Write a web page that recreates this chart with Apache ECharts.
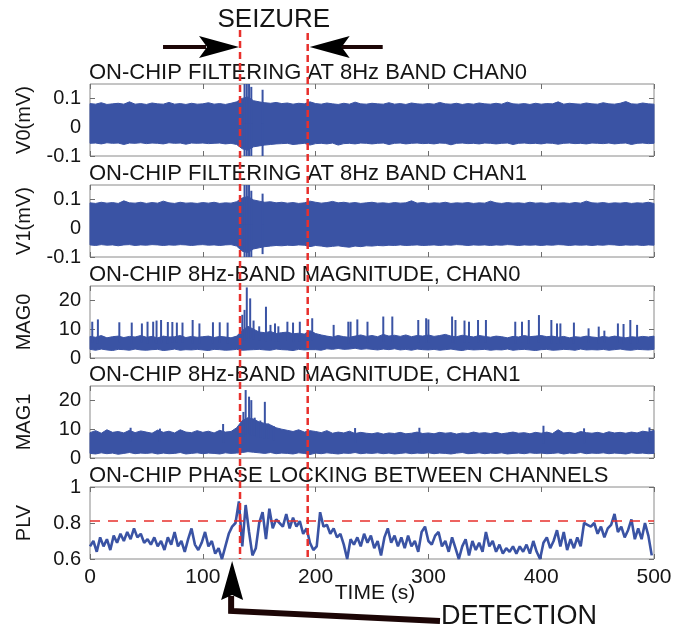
<!DOCTYPE html>
<html>
<head>
<meta charset="utf-8">
<title>On-chip seizure detection</title>
<script src="https://cdn.jsdelivr.net/npm/echarts@6.0.0/dist/echarts.min.js"></script>
<style>
  html, body { margin: 0; padding: 0; background: #fff; }
  #chart { width: 689px; height: 632px; }
</style>
</head>
<body>
<div id="chart"></div>
<script>
// ---- data ----
const bandStep = 5 // seconds between envelope samples
const plvStep = 3 // seconds between PLV samples

const v0Upper = [
  0.082, 0.080, 0.085, 0.079, 0.081, 0.083, 0.080, 0.088, 0.080, 0.082,
  0.079, 0.084, 0.081, 0.080, 0.086, 0.080, 0.082, 0.079, 0.083, 0.080,
  0.081, 0.085, 0.080, 0.082, 0.079, 0.083, 0.088, 0.100, 0.105, 0.092,
  0.088, 0.085, 0.083, 0.086, 0.082, 0.084, 0.080, 0.083, 0.081, 0.088,
  0.082, 0.080, 0.084, 0.081, 0.079, 0.083, 0.080, 0.087, 0.081, 0.080,
  0.083, 0.081, 0.080, 0.085, 0.080, 0.082, 0.079, 0.084, 0.081, 0.080,
  0.082, 0.080, 0.086, 0.081, 0.080, 0.083, 0.079, 0.082, 0.080, 0.084,
  0.081, 0.080, 0.083, 0.080, 0.087, 0.081, 0.080, 0.082, 0.079, 0.083,
  0.080, 0.082, 0.081, 0.088, 0.080, 0.083, 0.081, 0.080, 0.084, 0.081,
  0.080, 0.085, 0.081, 0.080, 0.083, 0.089, 0.081, 0.080, 0.084, 0.081, 0.080
]
const v0Lower = [
  -0.056, -0.055, -0.058, -0.054, -0.056, -0.055, -0.060, -0.055, -0.056, -0.054,
  -0.057, -0.055, -0.056, -0.058, -0.054, -0.056, -0.055, -0.059, -0.055, -0.056,
  -0.055, -0.057, -0.056, -0.055, -0.058, -0.056, -0.060, -0.075, -0.080, -0.068,
  -0.065, -0.062, -0.060, -0.058, -0.057, -0.056, -0.060, -0.058, -0.056, -0.062,
  -0.057, -0.056, -0.058, -0.055, -0.062, -0.057, -0.056, -0.058, -0.055, -0.056,
  -0.058, -0.056, -0.055, -0.060, -0.056, -0.055, -0.058, -0.056, -0.055, -0.057,
  -0.056, -0.058, -0.055, -0.056, -0.061, -0.056, -0.055, -0.057, -0.056, -0.058,
  -0.055, -0.056, -0.058, -0.056, -0.055, -0.060, -0.056, -0.055, -0.057, -0.056,
  -0.058, -0.055, -0.056, -0.059, -0.056, -0.055, -0.057, -0.056, -0.058, -0.055,
  -0.056, -0.057, -0.055, -0.058, -0.056, -0.055, -0.060, -0.056, -0.055, -0.057, -0.056
]
const v0Spikes = [
  [134, 0.1], [137, 0.15], [139, 0.15], [141, 0.15], [143, 0.14], [153, 0.13],
  [137, -0.1], [139, -0.1], [141, -0.1], [143, -0.1], [153, -0.1]
]

const v1Upper = [
  0.088, 0.086, 0.090, 0.087, 0.089, 0.086, 0.095, 0.088, 0.087, 0.090,
  0.086, 0.089, 0.087, 0.094, 0.088, 0.086, 0.090, 0.087, 0.088, 0.086,
  0.089, 0.087, 0.090, 0.086, 0.088, 0.087, 0.092, 0.105, 0.110, 0.098,
  0.094, 0.090, 0.092, 0.088, 0.090, 0.087, 0.089, 0.086, 0.088, 0.094,
  0.090, 0.087, 0.089, 0.093, 0.088, 0.090, 0.087, 0.089, 0.086, 0.088,
  0.090, 0.087, 0.088, 0.086, 0.089, 0.087, 0.088, 0.095, 0.087, 0.089,
  0.086, 0.088, 0.087, 0.090, 0.086, 0.088, 0.087, 0.089, 0.086, 0.088,
  0.087, 0.094, 0.088, 0.086, 0.089, 0.087, 0.088, 0.086, 0.090, 0.087,
  0.088, 0.086, 0.089, 0.087, 0.088, 0.086, 0.089, 0.087, 0.094, 0.088,
  0.087, 0.089, 0.086, 0.088, 0.087, 0.089, 0.086, 0.088, 0.087, 0.090, 0.086
]
const v1Lower = [
  -0.058, -0.060, -0.057, -0.059, -0.058, -0.061, -0.058, -0.057, -0.060, -0.058,
  -0.059, -0.057, -0.058, -0.060, -0.058, -0.059, -0.057, -0.058, -0.060, -0.058,
  -0.057, -0.059, -0.058, -0.060, -0.058, -0.057, -0.062, -0.080, -0.085, -0.072,
  -0.068, -0.064, -0.062, -0.060, -0.061, -0.059, -0.060, -0.058, -0.059, -0.064,
  -0.060, -0.062, -0.065, -0.063, -0.061, -0.064, -0.066, -0.062, -0.064, -0.061,
  -0.062, -0.060, -0.061, -0.059, -0.060, -0.058, -0.060, -0.059, -0.058, -0.060,
  -0.059, -0.058, -0.060, -0.058, -0.059, -0.057, -0.058, -0.060, -0.058, -0.059,
  -0.058, -0.060, -0.058, -0.059, -0.057, -0.058, -0.060, -0.058, -0.059, -0.058,
  -0.060, -0.058, -0.059, -0.057, -0.058, -0.060, -0.058, -0.059, -0.058, -0.060,
  -0.058, -0.059, -0.057, -0.058, -0.060, -0.058, -0.059, -0.058, -0.060, -0.058, -0.059
]
const v1Spikes = [
  [135, 0.1], [137, 0.15], [139, 0.15], [141, 0.15], [143, 0.13], [153, 0.12],
  [137, -0.1], [139, -0.1], [141, -0.1], [143, -0.1], [153, -0.09]
]

const mag0Upper = [
  7.5, 7.2, 7.8, 7.0, 7.4, 7.6, 7.1, 7.5, 7.3, 7.8,
  7.2, 7.5, 7.0, 7.6, 7.3, 7.4, 7.8, 7.1, 7.5, 7.2,
  7.4, 7.6, 7.1, 7.5, 7.3, 7.0, 7.6, 9.5, 11.0, 10.0,
  9.0, 8.8, 9.2, 8.5, 8.8, 9.0, 8.4, 8.6, 8.3, 9.5,
  8.5, 8.0, 7.6, 7.3, 7.8, 7.4, 7.2, 7.6, 8.0, 7.5,
  7.8, 7.4, 8.2, 7.6, 7.9, 7.5, 8.0, 7.4, 7.8, 7.6,
  8.0, 7.5, 7.8, 8.2, 7.6, 7.4, 7.9, 7.6, 7.3, 7.8,
  7.5, 7.2, 7.6, 7.4, 7.0, 7.5, 7.3, 7.8, 7.4, 7.6,
  7.8, 7.4, 7.6, 7.2, 7.5, 7.0, 7.4, 7.2, 7.6, 7.3,
  7.1, 7.5, 7.2, 7.6, 7.3, 7.0, 7.4, 7.2, 7.5, 7.3, 7.6
]
const mag0Lower = [
  3.0, 2.7, 3.1, 2.8, 2.6, 3.0, 2.9, 2.7, 3.1, 2.8,
  2.7, 2.9, 3.0, 2.6, 2.8, 3.1, 2.7, 2.9, 2.8, 3.0,
  2.8, 2.6, 3.0, 2.9, 2.7, 2.8, 3.0, 2.7, 2.8, 2.9,
  3.0, 2.8, 2.7, 3.1, 2.9, 2.8, 2.6, 3.0, 2.8, 2.9,
  2.9, 2.7, 3.2, 3.0, 3.3, 3.0, 3.1, 3.4, 3.0, 3.2,
  3.0, 2.8, 3.1, 2.9, 3.2, 2.8, 3.0, 2.7, 3.1, 2.9,
  2.8, 3.0, 2.7, 2.9, 3.1, 2.8, 2.6, 3.0, 2.8, 2.9,
  3.0, 2.7, 2.9, 2.8, 3.1, 2.7, 2.9, 3.0, 2.8, 2.6,
  2.9, 3.0, 2.7, 2.8, 3.0, 2.9, 2.7, 3.1, 2.8, 2.9,
  2.8, 3.0, 2.7, 2.9, 3.1, 2.8, 2.7, 3.0, 2.9, 2.8, 3.0
]
const mag0Spikes = [
  [2, 12.6], [7, 13.4], [26, 12.4], [37, 12.3], [46, 12], [51, 12.6], [56, 12.6],
  [59, 13], [63, 13.2], [69, 12.5], [73, 12.5], [77, 12.3], [82, 12.3], [91, 13.2],
  [97, 12], [109, 12.4], [115, 12.4], [122, 12.3], [135, 15], [137, 16.7], [139, 24.5],
  [142, 20.7], [145, 13], [150, 11], [156, 17.8], [160, 11.5], [164, 12], [167, 11],
  [175, 12.6], [180, 12.3], [186, 12.6], [197, 13.8], [216, 11.5], [229, 12.6],
  [231, 12.6], [237, 13.4], [246, 12.6], [260, 14.4], [268, 14.4], [291, 13.2],
  [298, 13.8], [300, 13.4], [321, 14.4], [324, 13.2], [332, 13], [336, 12.6],
  [344, 13.2], [351, 13.2], [377, 12.6], [383, 12.6], [389, 13.2], [398, 14.9],
  [409, 13.2], [414, 12], [417, 12], [429, 12.3], [442, 10.3], [451, 10.9],
  [456, 9.5], [468, 12], [473, 11.8], [479, 13.2], [485, 11.5]
]

const mag1Upper = [
  8.8, 9.5, 8.6, 9.8, 8.9, 9.2, 8.7, 9.6, 8.8, 9.4,
  9.0, 8.6, 9.7, 8.9, 9.3, 8.7, 9.8, 9.0, 8.8, 9.5,
  8.9, 9.3, 8.7, 9.6, 9.0, 9.2, 10.5, 13.0, 14.0, 13.5,
  12.5, 12.0, 11.5, 10.5, 10.0, 9.6, 9.2, 9.8, 9.0, 9.5,
  9.2, 8.8, 9.5, 8.6, 9.0, 8.7, 9.3, 8.5, 8.9, 8.6,
  8.4, 8.8, 8.3, 8.7, 8.5, 8.9, 8.4, 8.6, 9.0, 8.5,
  8.7, 8.4, 8.9, 8.6, 8.8, 8.3, 8.7, 8.5, 9.0, 8.6,
  8.8, 8.5, 8.9, 8.4, 8.7, 9.0, 8.6, 8.8, 8.4, 8.9,
  8.6, 9.0, 8.5, 9.8, 8.7, 8.9, 8.5, 9.2, 8.8, 8.6,
  8.9, 8.5, 9.1, 8.7, 8.9, 8.6, 9.0, 8.7, 9.3, 9.0, 9.6
]
const mag1Lower = [
  1.6, 1.4, 1.8, 1.5, 1.7, 1.3, 1.6, 1.9, 1.5, 1.7,
  1.6, 1.8, 1.4, 1.7, 1.5, 1.6, 1.9, 1.4, 1.6, 1.8,
  1.5, 1.7, 1.6, 1.4, 1.8, 1.6, 1.7, 1.9, 2.2, 2.0,
  1.8, 1.6, 1.9, 1.5, 1.7, 1.6, 1.4, 1.8, 1.6, 1.2,
  1.7, 1.5, 1.8, 1.6, 1.4, 1.7, 1.6, 1.9, 1.5, 1.7,
  1.6, 1.8, 1.5, 1.7, 1.4, 1.6, 1.8, 1.5, 1.7, 1.6,
  1.8, 1.5, 1.7, 1.6, 1.4, 1.7, 1.9, 1.5, 1.6, 1.8,
  1.5, 1.7, 1.6, 1.8, 1.4, 1.6, 1.7, 1.5, 1.8, 1.6,
  1.7, 1.5, 1.6, 1.8, 1.4, 1.7, 1.6, 1.9, 1.5, 1.7,
  1.6, 1.8, 1.5, 1.7, 1.6, 1.4, 1.8, 1.6, 1.7, 1.5, 1.6
]
const mag1Spikes = [
  [36, 10.5], [62, 10.2], [118, 11.8], [133, 11.5], [136, 16], [138, 23.6],
  [141, 21.3], [143, 20.1], [146, 14], [148, 12.6], [151, 13], [155, 19.5],
  [158, 12], [163, 11], [235, 10.4], [292, 10.5], [402, 11.2], [438, 10.3], [496, 10.6]
]

const plv = [
  0.67, 0.70, 0.64, 0.72, 0.67, 0.71, 0.65, 0.73, 0.69, 0.74,
  0.70, 0.75, 0.71, 0.77, 0.72, 0.74, 0.69, 0.71, 0.68, 0.72,
  0.67, 0.70, 0.65, 0.72, 0.68, 0.75, 0.67, 0.70, 0.64, 0.71,
  0.77, 0.68, 0.65, 0.69, 0.75, 0.67, 0.70, 0.63, 0.66, 0.60,
  0.67, 0.74, 0.78, 0.80, 0.92, 0.67, 0.90, 0.75, 0.62, 0.66,
  0.80, 0.86, 0.71, 0.88, 0.77, 0.82, 0.80, 0.78, 0.85, 0.77,
  0.83, 0.78, 0.81, 0.74, 0.77, 0.69, 0.65, 0.67, 0.86, 0.78,
  0.79, 0.74, 0.77, 0.72, 0.74, 0.68, 0.60, 0.71, 0.68, 0.72,
  0.67, 0.74, 0.69, 0.73, 0.66, 0.70, 0.62, 0.72, 0.77, 0.69,
  0.73, 0.67, 0.72, 0.66, 0.73, 0.67, 0.70, 0.64, 0.75, 0.78,
  0.70, 0.68, 0.73, 0.75, 0.67, 0.70, 0.64, 0.72, 0.66, 0.60,
  0.67, 0.71, 0.62, 0.70, 0.65, 0.69, 0.64, 0.75, 0.67, 0.70,
  0.64, 0.68, 0.63, 0.66, 0.64, 0.67, 0.63, 0.67, 0.64, 0.68,
  0.63, 0.70, 0.64, 0.60, 0.69, 0.72, 0.66, 0.70, 0.76, 0.67,
  0.75, 0.65, 0.71, 0.66, 0.72, 0.67, 0.80, 0.79, 0.78, 0.80,
  0.74, 0.78, 0.72, 0.77, 0.79, 0.85, 0.75, 0.78, 0.72, 0.76,
  0.82, 0.71, 0.77, 0.71, 0.80, 0.73, 0.62
]
const plvThreshold = 0.81

const seizureStart = 133
const seizureEnd = 193
const detectionTime = 126

const xTicks = [0, 100, 200, 300, 400, 500]
const yTicks = [
  [-0.1, 0, 0.1],
  [-0.1, 0, 0.1],
  [0, 10, 20],
  [0, 10, 20],
  [0.6, 0.8, 1]
]
const yRanges = [[-0.1, 0.15], [-0.1, 0.15], [0, 25], [0, 25], [0.6, 1]]
const yNames = ['V0(mV)', 'V1(mV)', 'MAG0', 'MAG1', 'PLV']
const panelTitles = [
  'ON-CHIP FILTERING AT 8Hz BAND CHAN0',
  'ON-CHIP FILTERING AT 8Hz BAND CHAN1',
  'ON-CHIP 8Hz-BAND MAGNITUDE, CHAN0',
  'ON-CHIP 8Hz-BAND MAGNITUDE, CHAN1',
  'ON-CHIP PHASE LOCKING BETWEEN CHANNELS'
]

// ---- layout / style ----
const blue = '#3a53a4'
const red = '#e8302c'
const ink = '#151515'
const arrowInk = '#1c0606'
const face = '"Liberation Sans", Arial, Helvetica, sans-serif'
const gridLeft = 90
const gridWidth = 564
const gridHeight = 72
const gridTops = [84, 185, 286, 386, 487]

const chart = echarts.init(document.getElementById('chart'), null, { renderer: 'canvas' })

const grids = []
const xAxes = []
const yAxes = []
const tickStyle = { color: '#6e6e6e', width: 1 }

for (let i = 0; i < 5; i++) {
  grids.push({
    left: gridLeft, width: gridWidth, top: gridTops[i], height: gridHeight,
    show: true, borderColor: '#8a8a8a', borderWidth: 1, backgroundColor: 'transparent'
  })
  xAxes.push({
    type: 'value', gridIndex: i, min: 0, max: 500, interval: 100, position: 'bottom',
    axisLine: { show: false, onZero: false },
    axisTick: { inside: true, length: 5, lineStyle: tickStyle },
    axisLabel: {
      show: i === 4, margin: 8, fontSize: 21, fontFamily: face, color: ink,
      formatter: v => (xTicks.indexOf(v) >= 0 ? String(v) : '')
    },
    splitLine: { show: false }
  })
  yAxes.push({
    type: 'value', gridIndex: i, min: yRanges[i][0], max: yRanges[i][1], position: 'left',
    axisLine: { show: false, onZero: false },
    axisTick: { inside: true, length: 5, lineStyle: tickStyle, customValues: yTicks[i] },
    axisLabel: {
      margin: 9, fontSize: 20, fontFamily: face, color: ink, customValues: yTicks[i],
      formatter: v => String(+(+v).toFixed(2))
    },
    splitLine: { show: false }
  })
}
// mirrored ticks on top / right, like a boxed MATLAB axes
for (let i = 0; i < 5; i++) {
  xAxes.push({
    type: 'value', gridIndex: i, min: 0, max: 500, interval: 100, position: 'top',
    axisLine: { show: false, onZero: false },
    axisTick: { inside: true, length: 5, lineStyle: tickStyle },
    axisLabel: { show: false },
    splitLine: { show: false }
  })
  yAxes.push({
    type: 'value', gridIndex: i, min: yRanges[i][0], max: yRanges[i][1], position: 'right',
    axisLine: { show: false, onZero: false },
    axisTick: { inside: true, length: 5, lineStyle: tickStyle, customValues: yTicks[i] },
    axisLabel: { show: false },
    splitLine: { show: false }
  })
}

// dense oscillation drawn as a filled envelope (lower .. upper) plus thin spikes
function bandSeries (i, upper, lower, spikes) {
  return [
    {
      type: 'custom', xAxisIndex: i, yAxisIndex: i, silent: true,
      data: [[0, 0]],
      renderItem: (params, api) => {
        const pts = upper.map((v, k) => api.coord([k * bandStep, v]))
        for (let k = lower.length - 1; k >= 0; k--) {
          pts.push(api.coord([k * bandStep, lower[k]]))
        }
        return {
          type: 'polygon',
          shape: { points: pts },
          style: { fill: blue, stroke: blue, lineWidth: 1 }
        }
      }
    },
    {
      // each spike rises out of the middle of the band to its peak
      type: 'custom', xAxisIndex: i, yAxisIndex: i, silent: true,
      data: spikes,
      renderItem: (params, api) => {
        const t = api.value(0)
        const k = Math.min(upper.length - 1, Math.round(t / bandStep))
        const from = api.coord([t, (upper[k] + lower[k]) / 2])
        const to = api.coord([t, api.value(1)])
        return {
          type: 'line',
          shape: { x1: from[0], y1: from[1], x2: to[0], y2: to[1] },
          style: { stroke: blue, lineWidth: 2 }
        }
      }
    }
  ]
}

const series = [].concat(
  bandSeries(0, v0Upper, v0Lower, v0Spikes),
  bandSeries(1, v1Upper, v1Lower, v1Spikes),
  bandSeries(2, mag0Upper, mag0Lower, mag0Spikes),
  bandSeries(3, mag1Upper, mag1Lower, mag1Spikes),
  [{
    type: 'line', xAxisIndex: 4, yAxisIndex: 4,
    data: plv.map((v, k) => [k * plvStep, v]),
    symbol: 'none', silent: true,
    lineStyle: { color: blue, width: 2.6 },
    markLine: {
      silent: true, symbol: 'none', label: { show: false },
      lineStyle: { color: red, type: [10, 8], width: 1.6 },
      data: [{ yAxis: plvThreshold }]
    }
  }]
)

chart.setOption({
  animation: false,
  backgroundColor: '#fff',
  grid: grids,
  xAxis: xAxes,
  yAxis: yAxes,
  series: series
})

// ---- annotations ----
const xs = chart.convertToPixel({ xAxisIndex: 4 }, seizureStart)
const xe = chart.convertToPixel({ xAxisIndex: 4 }, seizureEnd)
const xd = chart.convertToPixel({ xAxisIndex: 4 }, detectionTime)
const plotBottom = gridTops[4] + gridHeight

const graphics = []
panelTitles.forEach((t, i) => {
  graphics.push({
    type: 'text', x: gridLeft - 1, y: gridTops[i] - 11, z: 50,
    style: { text: t, font: '22px ' + face, fill: ink, align: 'left', verticalAlign: 'middle' }
  })
})
yNames.forEach((t, i) => {
  graphics.push({
    type: 'text', x: 24, y: gridTops[i] + gridHeight / 2, rotation: Math.PI / 2, z: 50,
    style: { text: t, font: '20px ' + face, fill: ink, align: 'center', verticalAlign: 'middle' }
  })
})
graphics.push({
  type: 'text', x: gridLeft + gridWidth / 2 + 3, y: 593, z: 50,
  style: { text: 'TIME (s)', font: '21px ' + face, fill: ink, align: 'center', verticalAlign: 'middle' }
})
graphics.push({
  type: 'text', x: (xs + xe) / 2, y: 20, z: 50,
  style: { text: 'SEIZURE', font: '26px ' + face, fill: ink, align: 'center', verticalAlign: 'middle' }
})
graphics.push({
  type: 'text', x: 441, y: 617, z: 50,
  style: { text: 'DETECTION', font: '27px ' + face, fill: ink, align: 'left', verticalAlign: 'middle' }
})

// red dashed seizure markers
graphics.push({
  type: 'line', z: 100,
  shape: { x1: xs, y1: 30, x2: xs, y2: plotBottom },
  style: { stroke: red, lineWidth: 2.5, lineDash: [7, 4] }
})
graphics.push({
  type: 'line', z: 100,
  shape: { x1: xe, y1: 33, x2: xe, y2: plotBottom },
  style: { stroke: red, lineWidth: 2.5, lineDash: [7, 4] }
})

// seizure arrows
graphics.push({
  type: 'line', z: 60,
  shape: { x1: xs - 77, y1: 47, x2: xs - 34, y2: 47 },
  style: { stroke: arrowInk, lineWidth: 4 }
})
graphics.push({
  type: 'polygon', z: 60,
  shape: { points: [[xs - 1, 47], [xs - 41, 36], [xs - 33, 47], [xs - 41, 58]] },
  style: { fill: '#000' }
})
graphics.push({
  type: 'line', z: 60,
  shape: { x1: xe + 34, y1: 47, x2: xe + 75, y2: 47 },
  style: { stroke: arrowInk, lineWidth: 4 }
})
graphics.push({
  type: 'polygon', z: 60,
  shape: { points: [[xe + 2, 47], [xe + 42, 36], [xe + 34, 47], [xe + 42, 58]] },
  style: { fill: '#000' }
})

// detection arrow
graphics.push({
  type: 'polyline', z: 60,
  shape: { points: [[xd - 1, 596], [xd - 1, 611], [440, 621]] },
  style: { stroke: arrowInk, lineWidth: 6, fill: null, lineJoin: 'miter' }
})
graphics.push({
  type: 'polygon', z: 61,
  shape: { points: [[xd, 561], [xd - 11, 600], [xd, 595], [xd + 11, 600]] },
  style: { fill: '#000' }
})

chart.setOption({ graphic: graphics })
</script>
</body>
</html>
